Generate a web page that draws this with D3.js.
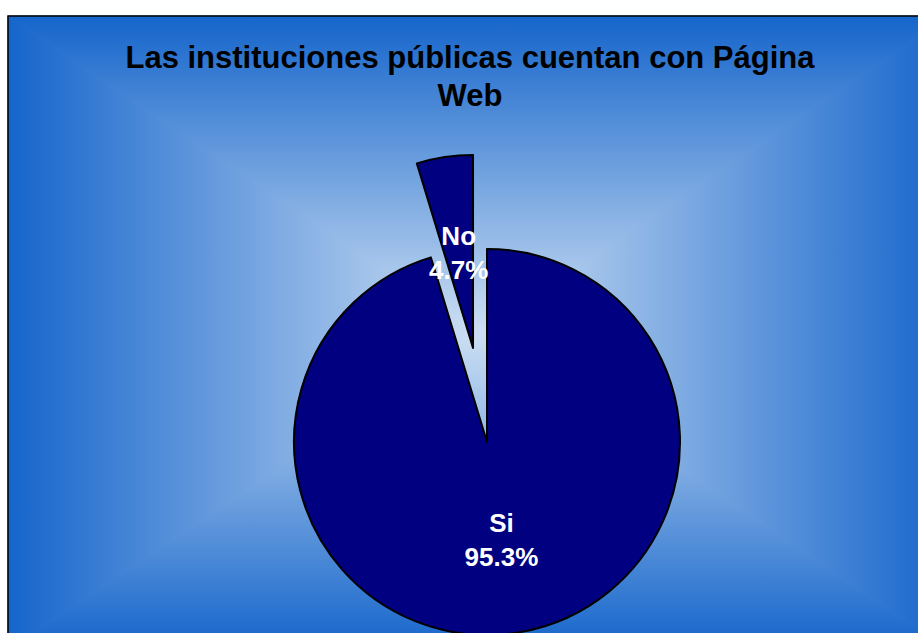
<!DOCTYPE html>
<html>
<head>
<meta charset="utf-8">
<script src="https://cdn.jsdelivr.net/npm/d3@7"></script>
<style>
  body { margin: 0; background: #ffffff; }
  svg { display: block; }
</style>
</head>
<body>
<svg id="chart" width="918" height="633"></svg>
<script>
// Data
const categories = ["Si", "No"];
const values = [95.3, 4.7];
const labels = ["95.3%", "4.7%"];
const titleLines = ["Las instituciones públicas cuentan con Página", "Web"];

const width = 918, height = 633;
const svg = d3.select("#chart");
const defs = svg.append("defs");

// Chart area (extends past the window on right and bottom)
const area = { x0: 8, y0: 16, x1: 950, y1: 650 };
const gc = { x: 479, y: 333 };   // centre of the "from center" gradient
const edgeColor = "#1565cb";
const centerColor = "#cddff3";

// Rectangular gradient from centre: four triangles with linear gradients
const tris = [
  { id: "gTop", pts: [[area.x0, area.y0], [area.x1, area.y0], [gc.x, gc.y]], g: [gc.x, area.y0, gc.x, gc.y] },
  { id: "gBot", pts: [[area.x0, area.y1], [area.x1, area.y1], [gc.x, gc.y]], g: [gc.x, area.y1, gc.x, gc.y] },
  { id: "gLeft", pts: [[area.x0, area.y0], [area.x0, area.y1], [gc.x, gc.y]], g: [area.x0, gc.y, gc.x, gc.y] },
  { id: "gRight", pts: [[area.x1, area.y0], [area.x1, area.y1], [gc.x, gc.y]], g: [area.x1, gc.y, gc.x, gc.y] }
];

tris.forEach(t => {
  const lg = defs.append("linearGradient")
    .attr("id", t.id)
    .attr("gradientUnits", "userSpaceOnUse")
    .attr("x1", t.g[0]).attr("y1", t.g[1])
    .attr("x2", t.g[2]).attr("y2", t.g[3]);
  lg.append("stop").attr("offset", "0%").attr("stop-color", edgeColor);
  lg.append("stop").attr("offset", "100%").attr("stop-color", centerColor);
});

const bg = svg.append("g");
bg.append("rect")
  .attr("x", area.x0).attr("y", area.y0)
  .attr("width", area.x1 - area.x0).attr("height", area.y1 - area.y0)
  .attr("fill", "#7a9fdc");
tris.forEach(t => {
  bg.append("polygon")
    .attr("points", t.pts.map(p => p.join(",")).join(" "))
    .attr("fill", `url(#${t.id})`)
    .attr("stroke", `url(#${t.id})`)
    .attr("stroke-width", 0.8);
});
bg.append("rect")
  .attr("x", area.x0).attr("y", area.y0)
  .attr("width", area.x1 - area.x0).attr("height", area.y1 - area.y0)
  .attr("fill", "none")
  .attr("stroke", "#000")
  .attr("stroke-width", 1.5);

// Title
svg.append("text")
  .attr("x", 470)
  .attr("y", 68)
  .attr("text-anchor", "middle")
  .style("font-family", "'Liberation Sans', Arial, sans-serif")
  .style("font-size", "31px")
  .style("font-weight", "bold")
  .attr("fill", "#000")
  .selectAll("tspan")
  .data(titleLines)
  .join("tspan")
  .attr("x", 470)
  .attr("dy", (d, i) => i === 0 ? 0 : 38)
  .text(d => d);

// Pie
const cx = 487, cy = 442, radius = 193;
const explode = [0, 95];
const labelR = [0.51 * radius, 0.505 * radius];

const pie = d3.pie().sort(null).value(d => d.value);
const arc = d3.arc().innerRadius(0).outerRadius(radius);
const data = categories.map((c, i) => ({ cat: c, value: values[i], label: labels[i], idx: i }));
const arcs = pie(data);

const g = svg.append("g").attr("transform", `translate(${cx},${cy})`);

const slice = g.selectAll("g.slice")
  .data(arcs)
  .join("g")
  .attr("class", "slice")
  .attr("transform", d => {
    const mid = (d.startAngle + d.endAngle) / 2;
    const e = explode[d.data.idx];
    return `translate(${Math.sin(mid) * e},${-Math.cos(mid) * e})`;
  });

slice.append("path")
  .attr("d", arc)
  .attr("fill", "#000080")
  .attr("stroke", "#000")
  .attr("stroke-width", 2)
  .attr("stroke-linejoin", "round");

slice.append("text")
  .attr("text-anchor", "middle")
  .attr("transform", d => {
    const mid = (d.startAngle + d.endAngle) / 2;
    const r = labelR[d.data.idx];
    return `translate(${Math.sin(mid) * r},${-Math.cos(mid) * r})`;
  })
  .style("font-family", "'Liberation Sans', Arial, sans-serif")
  .style("font-size", "26px")
  .style("font-weight", "bold")
  .attr("fill", "#ffffff")
  .selectAll("tspan")
  .data(d => [d.data.cat, d.data.label])
  .join("tspan")
  .attr("x", 0)
  .attr("dy", (d, i) => i === 0 ? -7 : 34)
  .text(d => d);
</script>
</body>
</html>
